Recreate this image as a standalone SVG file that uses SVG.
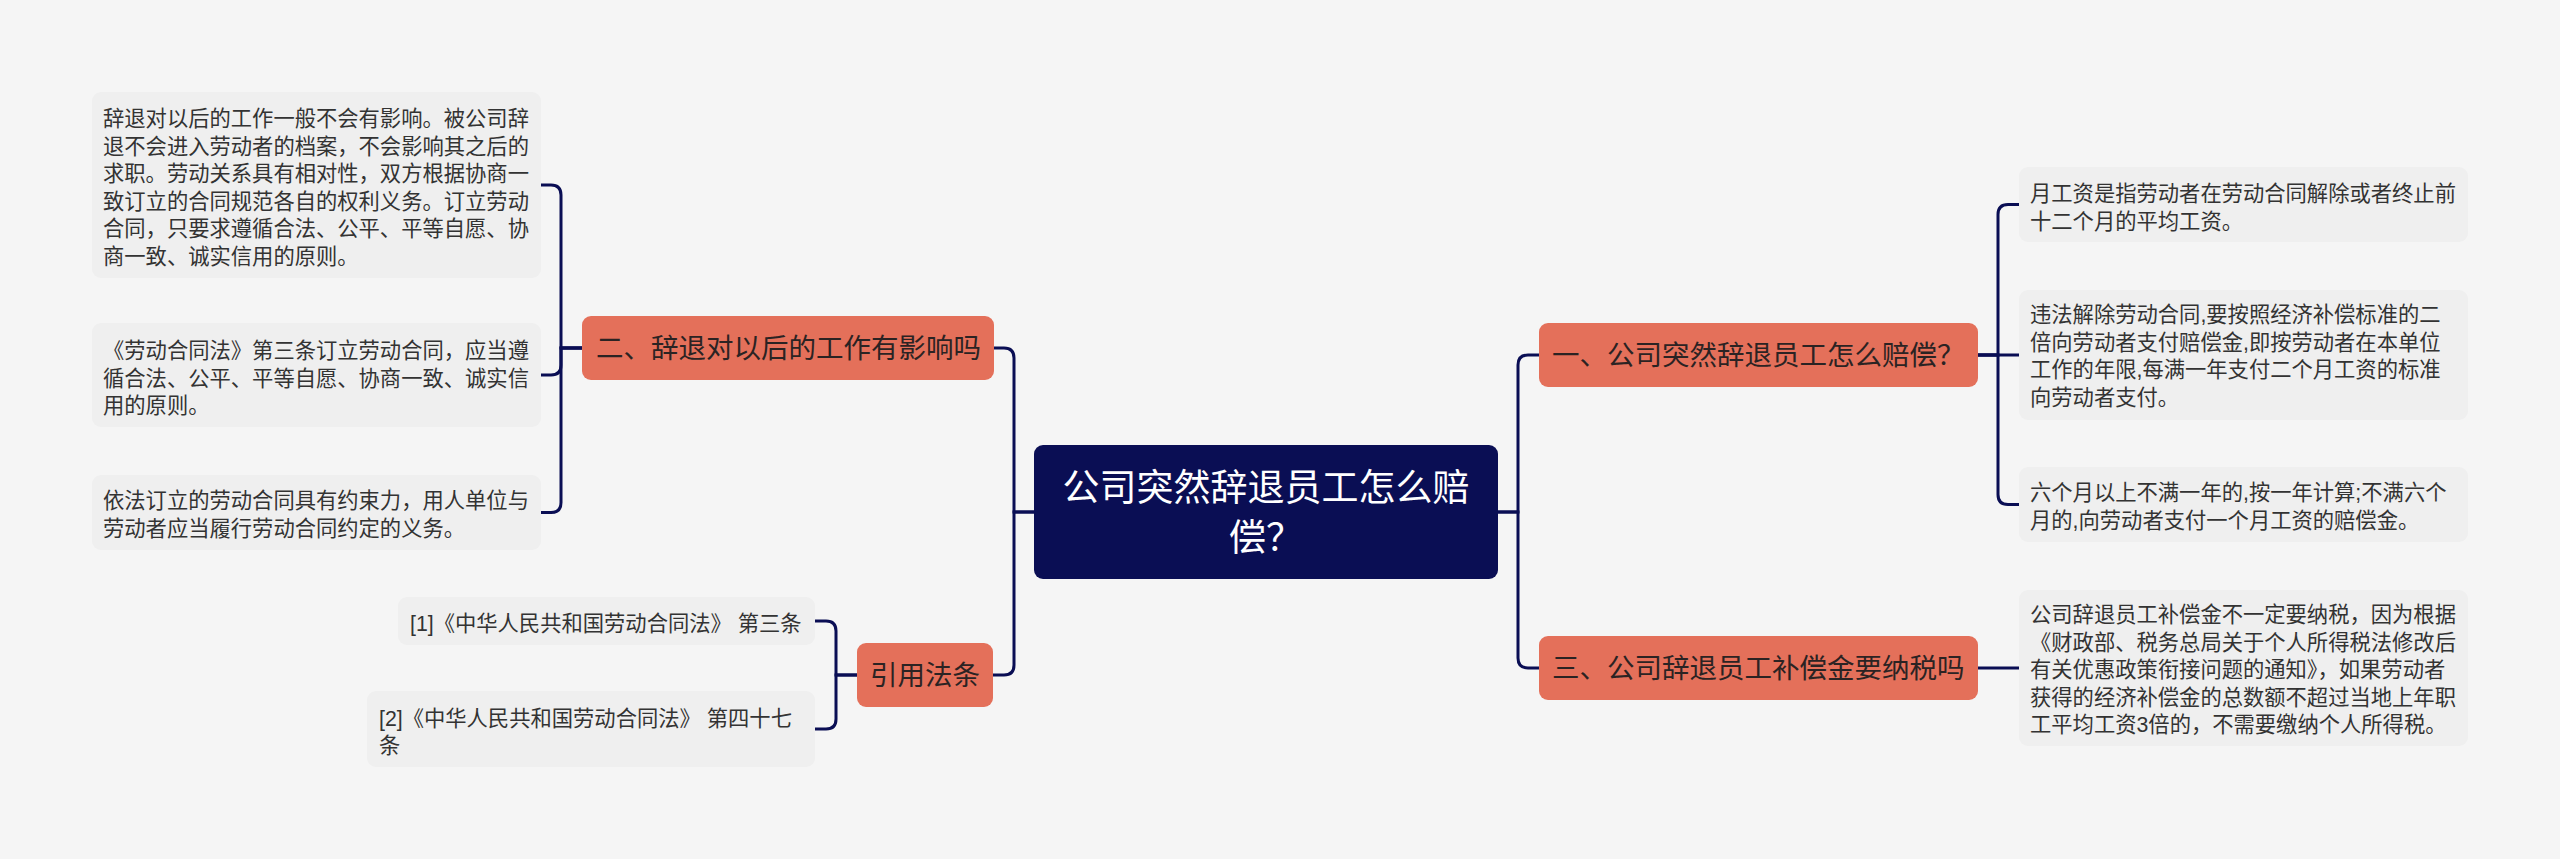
<svg xmlns="http://www.w3.org/2000/svg" width="2560" height="859" viewBox="0 0 2560 859">
<style>
.bg{fill:#f5f5f5}
.leaf{fill:#efefef}
.topic{fill:#e4705a}
.root{fill:#0a0e54}
.lt{font-family:"Liberation Sans","Noto Sans CJK SC",sans-serif;font-size:21.3px;fill:#333333}
.tt{font-family:"Liberation Sans","Noto Sans CJK SC",sans-serif;font-size:27.5px;fill:#2b2323}
.rt{font-family:"Liberation Sans","Noto Sans CJK SC",sans-serif;font-size:37px;fill:#ffffff;text-anchor:middle}
.conn path{fill:none;stroke:#0a0e54;stroke-width:3;stroke-linecap:round}
</style>
<rect class="bg" x="0" y="0" width="2560" height="859"/>
<g id="connectors" class="conn">
<path d="M1498,512 H1518 V365 Q1518,355 1528,355 H1539"/>
<path d="M1498,512 H1518 V658 Q1518,668 1528,668 H1539"/>
<path d="M1034,512 H1014 V358 Q1014,348 1004,348 H994"/>
<path d="M1034,512 H1014 V665 Q1014,675 1004,675 H993"/>
<path d="M1978,355 H1998 V214.5 Q1998,204.5 2008,204.5 H2019"/>
<path d="M1978,355 H2019"/>
<path d="M1978,355 H1998 V494.5 Q1998,504.5 2008,504.5 H2019"/>
<path d="M1978,668 H2019"/>
<path d="M582,348 H561 V195 Q561,185 551,185 H541"/>
<path d="M582,348 H561 V365 Q561,375 551,375 H541"/>
<path d="M582,348 H561 V502.5 Q561,512.5 551,512.5 H541"/>
<path d="M857,675 H836 V631 Q836,621 826,621 H815"/>
<path d="M857,675 H836 V719 Q836,729 826,729 H815"/>
</g>
<g id="root">
<rect class="root" x="1034" y="445" width="464" height="134" rx="9"/>
<text class="rt" x="1266" y="501">公司突然辞退员工怎么赔</text>
<text class="rt" x="1266" y="551">偿？</text>
</g>
<g id="topic1">
<rect class="topic" x="1539" y="323" width="439" height="64" rx="9"/>
<text class="tt" x="1552" y="365">一、公司突然辞退员工怎么赔偿？</text>
</g>
<g id="topic3">
<rect class="topic" x="1539" y="636" width="439" height="64" rx="9"/>
<text class="tt" x="1552" y="678">三、公司辞退员工补偿金要纳税吗</text>
</g>
<g id="topic2">
<rect class="topic" x="582" y="316" width="412" height="64" rx="9"/>
<text class="tt" x="596" y="358">二、辞退对以后的工作有影响吗</text>
</g>
<g id="topic4">
<rect class="topic" x="857" y="643" width="136" height="64" rx="9"/>
<text class="tt" x="925" y="685" text-anchor="middle">引用法条</text>
</g>
<g id="leaf-r1">
<rect class="leaf" x="2019" y="167" width="449" height="75" rx="9"/>
<text class="lt" x="2030" y="201">月工资是指劳动者在劳动合同解除或者终止前</text>
<text class="lt" x="2030" y="229">十二个月的平均工资。</text>
</g>
<g id="leaf-r2">
<rect class="leaf" x="2019" y="290" width="449" height="130" rx="9"/>
<text class="lt" x="2030" y="322">违法解除劳动合同,要按照经济补偿标准的二</text>
<text class="lt" x="2030" y="350">倍向劳动者支付赔偿金,即按劳动者在本单位</text>
<text class="lt" x="2030" y="377">工作的年限,每满一年支付二个月工资的标准</text>
<text class="lt" x="2030" y="405">向劳动者支付。</text>
</g>
<g id="leaf-r3">
<rect class="leaf" x="2019" y="467" width="449" height="75" rx="9"/>
<text class="lt" x="2030" y="500">六个月以上不满一年的,按一年计算;不满六个</text>
<text class="lt" x="2030" y="528">月的,向劳动者支付一个月工资的赔偿金。</text>
</g>
<g id="leaf-r4">
<rect class="leaf" x="2019" y="590" width="449" height="156" rx="9"/>
<text class="lt" x="2030" y="622">公司辞退员工补偿金不一定要纳税，因为根据</text>
<text class="lt" x="2030" y="649.5">《财政部、税务总局关于个人所得税法修改后</text>
<text class="lt" x="2030" y="677">有关优惠政策衔接问题的通知》，如果劳动者</text>
<text class="lt" x="2030" y="704.5">获得的经济补偿金的总数额不超过当地上年职</text>
<text class="lt" x="2030" y="732">工平均工资3倍的，不需要缴纳个人所得税。</text>
</g>
<g id="leaf-l1">
<rect class="leaf" x="92" y="92" width="449" height="186" rx="9"/>
<text class="lt" x="103" y="126">辞退对以后的工作一般不会有影响。被公司辞</text>
<text class="lt" x="103" y="153.5">退不会进入劳动者的档案，不会影响其之后的</text>
<text class="lt" x="103" y="181">求职。劳动关系具有相对性，双方根据协商一</text>
<text class="lt" x="103" y="208.5">致订立的合同规范各自的权利义务。订立劳动</text>
<text class="lt" x="103" y="236">合同，只要求遵循合法、公平、平等自愿、协</text>
<text class="lt" x="103" y="263.5">商一致、诚实信用的原则。</text>
</g>
<g id="leaf-l2">
<rect class="leaf" x="92" y="323" width="449" height="104" rx="9"/>
<text class="lt" x="103" y="358">《劳动合同法》第三条订立劳动合同，应当遵</text>
<text class="lt" x="103" y="385.5">循合法、公平、平等自愿、协商一致、诚实信</text>
<text class="lt" x="103" y="413">用的原则。</text>
</g>
<g id="leaf-l3">
<rect class="leaf" x="92" y="475" width="449" height="75" rx="9"/>
<text class="lt" x="103" y="508">依法订立的劳动合同具有约束力，用人单位与</text>
<text class="lt" x="103" y="535.5">劳动者应当履行劳动合同约定的义务。</text>
</g>
<g id="leaf-ref1">
<rect class="leaf" x="398" y="597" width="417" height="48" rx="9"/>
<text class="lt" x="410" y="631">[1]《中华人民共和国劳动合同法》 第三条</text>
</g>
<g id="leaf-ref2">
<rect class="leaf" x="367" y="691" width="448" height="76" rx="9"/>
<text class="lt" x="379" y="726">[2]《中华人民共和国劳动合同法》 第四十七</text>
<text class="lt" x="379" y="753">条</text>
</g>
</svg>
